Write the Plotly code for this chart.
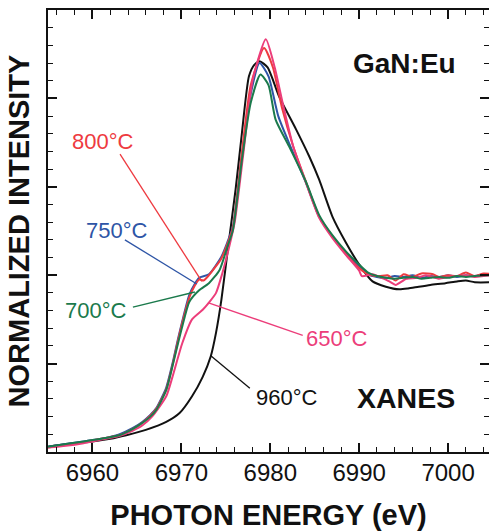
import plotly.graph_objects as go

# ---- data ----
E_960 = [6955, 6956.3, 6958, 6960, 6962, 6963.8, 6966, 6968.3, 6969.8, 6971.2, 6972.4, 6973.3,
         6973.9, 6974.5, 6975.3, 6976.1, 6976.8, 6977.6, 6978.2, 6978.8, 6979.7, 6981, 6982.9,
         6984.4, 6985.5, 6987, 6988.5, 6990, 6991.5, 6993, 6994.5, 6995.5, 6996.7, 6998,
         6999.7, 7001, 7002, 7003, 7005]
I_960 = [0.06, 0.08, 0.10, 0.12, 0.15, 0.19, 0.25, 0.34, 0.44, 0.63, 0.85, 1.08,
         1.35, 1.72, 2.35, 2.97, 3.6, 4.25, 4.38, 4.42, 4.35, 4.02, 3.65,
         3.34, 3.08, 2.66, 2.37, 2.12, 1.93, 1.87, 1.84, 1.85, 1.87, 1.89,
         1.91, 1.93, 1.94, 1.92, 1.92]

E_700 = [6955, 6957, 6959, 6961, 6963, 6964.5, 6965.6, 6966.5, 6967.2, 6968.3, 6969, 6969.6,
         6970.1, 6970.9, 6972, 6973.1, 6974.3, 6975.2, 6975.8, 6976.8, 6977.8, 6978.9, 6979.8,
         6980.6, 6982.1, 6984, 6985.5, 6987, 6988.5, 6990, 6991, 6992, 6993, 6994, 6995, 6996,
         6997, 6998, 6999, 7000, 7001, 7002, 7003, 7004, 7005]
I_700 = [0.06, 0.09, 0.12, 0.15, 0.19, 0.26, 0.33, 0.40, 0.48, 0.70, 0.97, 1.22,
         1.42, 1.70, 1.83, 1.91, 2.06, 2.33, 2.51, 3.3, 3.95, 4.27, 4.15,
         3.76, 3.46, 3.06, 2.68, 2.45, 2.27, 2.12, 2.03, 1.99, 1.97, 1.96, 1.97, 1.98,
         1.96, 1.97, 1.98, 1.97, 1.99, 1.98, 1.99, 2.00, 2.00]

E_750 = [6955, 6957, 6959, 6961, 6963, 6964.5, 6965.6, 6966.5, 6967.2, 6968.3, 6969, 6969.6,
         6970.1, 6970.9, 6971.5, 6972, 6973.1, 6974.5, 6975.2, 6975.8, 6976.8, 6977.8, 6978.8,
         6979.8, 6980.9, 6982.3, 6984, 6985.5, 6987, 6988.5, 6990, 6991, 6992, 6993, 6994,
         6995, 6996, 6997, 6998, 6999, 7000, 7001, 7002, 7003, 7004, 7005]
I_750 = [0.06, 0.09, 0.12, 0.15, 0.20, 0.27, 0.34, 0.42, 0.50, 0.73, 1.00, 1.27,
         1.48, 1.78, 1.90, 1.97, 2.01, 2.21, 2.38, 2.55, 3.35, 4.05, 4.40,
         4.25, 3.80, 3.45, 3.05, 2.66, 2.44, 2.25, 2.10, 2.01, 1.98, 1.97, 1.99,
         1.98, 2.00, 1.97, 1.99, 1.98, 2.00, 1.98, 2.00, 1.99, 2.01, 2.00]

E_800 = [6955, 6957, 6959, 6961, 6963, 6964.5, 6965.6, 6966.5, 6967.2, 6968.3, 6969, 6969.6,
         6970.1, 6970.9, 6971.5, 6972, 6972.5, 6973.1, 6974.5, 6975.2, 6975.8, 6976.8, 6977.8,
         6979.3, 6980.3, 6981.3, 6982.6, 6984, 6985.5, 6987, 6988.5, 6990, 6991, 6992.2, 6993.2,
         6994.1, 6995, 6996, 6997, 6998.3, 6999, 7000, 7001, 7002, 7003, 7004, 7005]
I_800 = [0.05, 0.08, 0.11, 0.15, 0.19, 0.26, 0.33, 0.41, 0.49, 0.71, 0.98, 1.25,
         1.46, 1.75, 1.88, 1.95, 1.94, 2.00, 2.19, 2.36, 2.54, 3.38, 4.15,
         4.57, 4.35, 3.90, 3.45, 3.06, 2.66, 2.44, 2.24, 2.08, 2.01, 1.99, 2.00,
         1.94, 2.01, 1.98, 2.02, 2.01, 1.98, 2.00, 1.99, 2.03, 1.99, 2.02, 2.01]

E_650 = [6955, 6957, 6959, 6961, 6963, 6964.5, 6965.6, 6966.7, 6968.3, 6969, 6970.1, 6971.2,
         6972.4, 6973.1, 6973.9, 6974.6, 6975.4, 6976, 6977, 6978, 6979.5, 6980.5, 6981.5,
         6982.6, 6984, 6985.5, 6987, 6988.5, 6990, 6990.3, 6991.5, 6992.5, 6993.4, 6994.1,
         6995.3, 6996.5, 6997.5, 6999, 7000, 7001, 7002, 7003, 7004, 7005]
I_650 = [0.05, 0.07, 0.10, 0.14, 0.18, 0.24, 0.30, 0.40, 0.63, 0.85, 1.23, 1.50,
         1.61, 1.69, 1.80, 2.02, 2.33, 2.60, 3.40, 4.20, 4.67, 4.35, 3.90,
         3.45, 3.05, 2.65, 2.42, 2.23, 2.05, 1.99, 2.01, 1.97, 1.93, 1.89,
         1.96, 1.97, 2.00, 1.96, 1.98, 1.99, 2.00, 1.98, 1.99, 2.00]

series = [
    ("960°C", E_960, I_960, "#111111"),
    ("750°C", E_750, I_750, "#2E55A6"),
    ("800°C", E_800, I_800, "#EE3A40"),
    ("650°C", E_650, I_650, "#EC3D7A"),
    ("700°C", E_700, I_700, "#1B7A4C"),
]

# label text position, leader line tail (near text) and head (on curve)
labels = [
    ("800°C", 6961.2, 3.51, 6963.1, 3.37, 6972.3, 1.93, "#EE3A40"),
    ("750°C", 6962.8, 2.51, 6963.65, 2.40, 6971.74, 1.90, "#2E55A6"),
    ("700°C", 6960.4, 1.60, 6964.55, 1.64, 6971.52, 1.81, "#1B7A4C"),
    ("650°C", 6987.5, 1.28, 6983.65, 1.32, 6972.98, 1.69, "#EC3D7A"),
    ("960°C", 6981.85, 0.62, 6977.7, 0.72, 6973.31, 1.09, "#111111"),
]

FONT = "Liberation Sans, Arial, sans-serif"

fig = go.Figure()
for name, e, i, c in series:
    fig.add_trace(go.Scatter(x=e, y=i, mode="lines", name=name,
                             line=dict(color=c, width=2, shape="spline", smoothing=0.6),
                             showlegend=False))

for txt, tx, ty, x0, y0, x1, y1, c in labels:
    fig.add_shape(type="line", xref="x", yref="y", x0=x0, y0=y0, x1=x1, y1=y1,
                  line=dict(color=c, width=1.3))
    fig.add_annotation(x=tx, y=ty, text=txt, showarrow=False,
                       font=dict(family=FONT, size=22, color=c))

fig.add_annotation(x=6995.1, y=4.40, text="<b>GaN:Eu</b>", showarrow=False,
                   font=dict(family=FONT, size=28, color="#111111"))
fig.add_annotation(x=6995.3, y=0.61, text="<b>XANES</b>", showarrow=False,
                   font=dict(family=FONT, size=28.5, color="#111111"))

fig.update_xaxes(range=[6955, 7004.6], tickmode="linear", tick0=6960, dtick=10,
                 ticks="inside", ticklen=9, tickwidth=1.5, tickcolor="#111",
                 minor=dict(ticks="inside", dtick=2, ticklen=5, tickwidth=1.2, tickcolor="#111"),
                 showline=True, linecolor="#111", linewidth=2, mirror="allticks",
                 showgrid=False, zeroline=False, automargin=False,
                 tickfont=dict(family=FONT, size=24, color="#111"), ticklabelstandoff=-2,
                 title=dict(text="<b>PHOTON ENERGY (eV)</b>", standoff=21,
                            font=dict(family=FONT, size=29, color="#111")))
fig.update_yaxes(range=[0, 5], tickmode="linear", tick0=0, dtick=1,
                 ticks="inside", ticklen=9, tickwidth=1.5, tickcolor="#111",
                 minor=dict(ticks="inside", dtick=0.2, ticklen=5, tickwidth=1.2, tickcolor="#111"),
                 showline=True, linecolor="#111", linewidth=2, mirror="allticks",
                 showgrid=False, zeroline=False, showticklabels=False, automargin=False,
                 title=dict(text="<b>NORMALIZED INTENSITY</b>", standoff=8,
                            font=dict(family=FONT, size=29, color="#111")))

fig.update_layout(width=489, height=531, margin=dict(l=48, r=0, t=10, b=79),
                  plot_bgcolor="white", paper_bgcolor="white")

fig.write_html("out.html", config={"displayModeBar": False},
               post_script="document.body.style.margin='0';")
